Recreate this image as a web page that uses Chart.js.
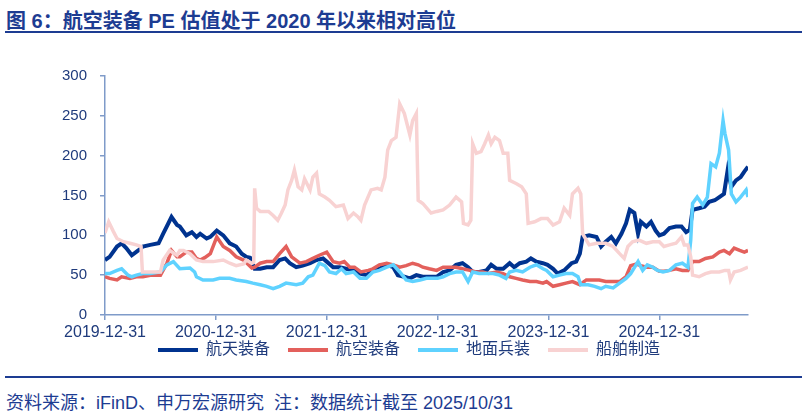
<!DOCTYPE html>
<html>
<head>
<meta charset="utf-8">
<script src="https://cdn.jsdelivr.net/npm/chart.js@4"></script>
<style>
  body { margin: 0; background: #fff; }
  #wrap { position: relative; width: 807px; height: 413px; overflow: hidden; }
  #title { position: absolute; left: 6px; top: 5px; font: bold 20px "Liberation Sans", "Noto Sans CJK SC", sans-serif; color: #1d3c92; white-space: nowrap; }
  .rule { position: absolute; left: 5px; width: 797px; height: 2px; background: #1d3c92; }
  #note { position: absolute; left: 6px; top: 388px; font: 18px "Liberation Sans", "Noto Sans CJK SC", sans-serif; color: #1d3c92; white-space: nowrap; }
  #box { position: absolute; left: 0; top: 0; width: 807px; height: 384px; }
</style>
</head>
<body>
<div id="wrap">
  <div id="title">图 6：航空装备 PE 估值处于 2020 年以来相对高位</div>
  <div class="rule" style="top:31px"></div>
  <div class="rule" style="top:376px"></div>
  <div id="note">资料来源：iFinD、申万宏源研究&nbsp; 注：数据统计截至 2025/10/31</div>
  <div id="box"><canvas id="peChart"></canvas></div>
</div>
<script>
// x = months since 2019-12-31, y = PE
const seriesNames = ['航天装备', '航空装备', '地面兵装', '船舶制造'];
const tickMonths = [0, 12, 24, 36, 48, 60];
const tickLabels = ['2019-12-31', '2020-12-31', '2021-12-31', '2022-12-31', '2023-12-31', '2024-12-31'];

const hangtian = [[0,69],[0.5,73],[1.3,86],[1.8,90],[2.3,84],[2.9,75],[3.6,81],[4.1,86],[4.9,88],[5.8,90],[6.3,102],[7.2,123],[7.8,113],[8.1,111],[8.8,100],[9.4,104],[9.9,98],[10.3,102],[11.0,96],[11.4,98],[12.1,106],[12.8,100],[13.5,90],[14.2,86],[14.8,77],[15.3,73],[15.7,72],[16.2,58],[16.8,58],[17.5,60],[18.2,60],[18.9,69],[19.5,71],[20.0,65],[20.7,60],[21.4,62],[22.2,65],[22.9,69],[23.6,71],[24.0,67],[24.7,60],[25.4,60],[26.1,58],[26.9,56],[27.6,52],[28.3,50],[29.0,56],[29.7,58],[30.5,63],[31.2,60],[31.7,50],[32.4,48],[33.0,46],[33.7,50],[34.4,48],[35.1,48],[35.9,48],[36.6,54],[37.3,56],[38.0,63],[38.7,65],[39.3,60],[39.8,54],[40.5,54],[41.3,56],[41.8,63],[42.4,58],[43.1,58],[43.8,65],[44.3,60],[44.9,65],[45.6,67],[46.1,71],[46.7,67],[47.4,65],[47.9,63],[48.5,58],[49.0,52],[49.7,56],[50.5,65],[51.0,67],[51.4,77],[51.7,98],[52.4,100],[53.2,98],[53.7,86],[54.2,92],[54.8,98],[55.3,90],[55.9,102],[56.4,115],[56.8,132],[57.3,128],[57.7,102],[58.0,117],[58.6,111],[59.1,117],[59.6,106],[60.0,100],[60.5,102],[61.1,109],[61.8,111],[62.4,111],[62.9,104],[63.3,107],[63.6,132],[64.3,134],[64.9,136],[65.4,142],[66.0,144],[66.5,148],[67.0,152],[67.4,182],[67.8,161],[68.3,169],[68.8,173],[69.2,180],[69.6,186]];

const hangkong = [[0,48],[0.5,46],[1.3,44],[1.8,48],[2.7,46],[3.4,48],[4.1,48],[4.9,50],[6.0,50],[6.7,65],[7.2,81],[7.8,73],[8.1,73],[8.8,79],[9.4,79],[9.9,71],[10.3,69],[10.8,72],[11.4,77],[12.1,98],[12.8,86],[13.5,81],[14.2,73],[15.0,69],[15.9,59],[16.2,60],[16.8,65],[17.5,67],[18.2,67],[18.9,77],[19.6,86],[20.2,73],[21.1,65],[21.8,67],[22.5,71],[23.2,75],[24.0,79],[24.7,67],[25.4,65],[25.9,67],[26.5,60],[27.0,60],[27.7,54],[28.5,56],[29.0,58],[29.7,63],[30.5,65],[31.2,63],[31.9,60],[32.6,62],[33.3,65],[33.9,63],[34.4,60],[35.1,58],[35.9,56],[36.6,60],[37.3,60],[38.0,60],[38.7,58],[39.5,56],[40.2,54],[40.9,54],[41.5,52],[42.4,54],[43.1,52],[43.8,48],[44.5,46],[45.2,44],[46.0,42],[46.7,42],[47.4,40],[47.8,42],[48.5,36],[49.2,38],[49.9,40],[50.6,42],[51.4,38],[52.1,44],[52.8,44],[53.5,44],[54.2,42],[55.0,42],[55.7,42],[56.4,48],[56.9,62],[57.5,64],[58.0,62],[58.6,60],[59.3,60],[60.0,55],[60.5,55],[61.1,56],[61.8,58],[62.5,56],[63.1,56],[63.6,67],[64.3,67],[65.0,71],[65.8,73],[66.5,79],[67.0,81],[67.6,77],[68.1,84],[68.7,81],[69.2,79],[69.6,81]];

const dimian = [[0,52],[0.5,52],[1.3,56],[1.8,58],[2.5,50],[2.9,48],[3.4,50],[4.1,52],[4.9,52],[6.0,54],[6.7,63],[7.4,67],[8.1,58],[9.2,59],[9.7,54],[9.9,48],[10.6,44],[11.7,44],[12.4,46],[13.5,46],[14.2,44],[15.3,42],[16.0,40],[16.8,38],[17.5,36],[18.2,33],[18.9,36],[19.6,40],[20.7,38],[21.4,40],[22.0,48],[22.5,50],[23.2,65],[23.8,62],[24.3,54],[25.0,52],[25.6,58],[26.1,52],[26.9,54],[27.6,46],[28.3,46],[29.0,54],[29.7,56],[30.5,60],[31.2,63],[31.9,54],[32.6,44],[33.3,42],[34.1,44],[34.8,46],[35.5,46],[36.0,46],[36.6,48],[37.3,52],[38.0,54],[38.7,54],[39.3,42],[39.8,54],[40.5,52],[41.3,52],[42.0,52],[42.7,50],[43.4,46],[43.8,54],[44.5,56],[45.2,54],[46.0,60],[46.7,63],[47.4,58],[47.8,56],[48.5,48],[49.2,50],[49.9,52],[50.6,52],[51.2,48],[51.5,38],[52.3,38],[53.0,36],[53.7,33],[54.2,36],[55.0,34],[55.7,40],[56.4,46],[56.9,52],[57.7,67],[58.2,56],[58.7,63],[59.3,60],[59.8,56],[60.4,54],[61.1,56],[61.8,63],[62.5,65],[63.1,60],[63.4,94],[63.6,140],[64.1,148],[64.7,138],[65.2,148],[65.6,190],[66.1,186],[66.5,203],[66.9,244],[67.1,228],[67.5,207],[67.8,152],[68.3,142],[68.8,148],[69.4,157],[69.6,148]];

const chuanbo = [[0,103],[0.4,117],[0.9,105],[1.3,96],[2.0,92],[2.7,90],[3.4,88],[3.9,86],[4.05,54],[4.9,54],[6.0,54],[6.3,69],[7.0,81],[7.8,75],[8.1,81],[8.5,81],[9.2,77],[9.9,69],[10.6,67],[11.7,67],[12.8,69],[13.5,65],[14.2,62],[15.0,64],[15.3,69],[15.9,65],[16.1,66],[16.2,159],[16.4,134],[16.8,130],[17.7,130],[18.2,125],[18.7,119],[19.1,128],[19.5,138],[19.8,157],[20.2,169],[20.5,182],[20.9,161],[21.3,157],[21.6,171],[22.2,157],[22.5,173],[22.9,178],[23.2,152],[23.8,148],[24.3,144],[25.0,136],[25.8,138],[26.3,121],[26.9,128],[27.4,123],[27.7,119],[28.1,138],[28.8,157],[29.5,159],[29.9,157],[30.3,173],[30.6,207],[31.0,219],[31.5,223],[31.9,265],[32.4,253],[33.0,226],[33.3,244],[33.7,253],[33.9,144],[34.4,140],[35.3,128],[35.9,130],[36.6,132],[37.3,138],[38.0,148],[38.6,142],[38.8,115],[39.3,113],[39.6,119],[39.8,215],[40.2,203],[40.7,205],[41.1,215],[41.5,226],[41.8,215],[42.2,223],[42.7,219],[43.1,203],[43.6,203],[43.8,169],[44.5,165],[45.1,161],[45.6,152],[45.8,115],[46.5,117],[47.2,121],[47.9,121],[48.5,113],[49.2,117],[49.7,134],[50.3,125],[50.6,152],[51.2,159],[51.5,152],[51.7,102],[52.4,88],[53.2,90],[54.2,90],[55.0,86],[55.7,77],[56.2,71],[56.6,86],[57.1,92],[57.8,94],[58.6,90],[59.3,92],[60.0,92],[60.5,86],[61.1,88],[61.8,90],[62.4,98],[62.7,88],[63.1,88],[63.4,73],[63.6,50],[64.3,48],[65.0,52],[65.6,54],[66.5,54],[67.1,56],[67.5,56],[67.7,44],[68.1,54],[68.8,56],[69.6,60]];

const colors = ['#00338f', '#e3605c', '#5fd2ff', '#f8d2d2'];
const widths = [4, 3.5, 3.5, 3.5];
const axisColor = '#7f9bc9';
const textColor = '#1f3b7c';
const fontFamily = '"Liberation Sans", "Noto Sans CJK SC", sans-serif';

const datasets = [hangtian, hangkong, dimian, chuanbo].map((d, i) => ({
    label: seriesNames[i],
    data: d,
    borderColor: colors[i],
    backgroundColor: colors[i],
    borderWidth: widths[i],
    pointRadius: 0,
    tension: 0,
    order: 4 - i   // later series drawn on top, like the original
}));

// nudge the legend up under the axis labels and a bit right, as in the original
const legendShift = {
    id: 'legendShift',
    afterLayout(chart) {
        const lg = chart.legend;
        lg.top -= 16; lg.bottom -= 16;
        lg.left += 35; lg.right += 35;
    }
};

new Chart(document.getElementById('peChart'), {
    type: 'line',
    data: { datasets },
    plugins: [legendShift],
    options: {
        responsive: true,
        maintainAspectRatio: false,
        animation: false,
        layout: { padding: { left: 0, right: 59, top: 76, bottom: 0 } },
        plugins: {
            tooltip: { enabled: false },
            legend: {
                position: 'bottom',
                labels: {
                    boxWidth: 40,
                    boxHeight: 4,
                    padding: 18,
                    color: textColor,
                    font: { family: fontFamily, size: 16 },
                    sort: (a, b) => a.datasetIndex - b.datasetIndex,
                    generateLabels: chart => Chart.defaults.plugins.legend.labels.generateLabels(chart)
                        .map(l => ({ ...l, lineWidth: 0, fillStyle: l.strokeStyle }))
                }
            }
        },
        scales: {
            x: {
                type: 'linear',
                min: 0,
                max: 69.6,
                afterBuildTicks: axis => { axis.ticks = tickMonths.map(v => ({ value: v })); },
                afterFit: axis => { axis.height = 25; },
                ticks: {
                    autoSkip: false,
                    maxRotation: 0,
                    padding: 3,
                    color: textColor,
                    font: { family: fontFamily, size: 16 },
                    callback: v => tickLabels[tickMonths.indexOf(v)]
                },
                grid: { drawOnChartArea: false, drawTicks: true, tickLength: 5, color: axisColor, lineWidth: 1.5 },
                border: { color: axisColor, width: 1.5 }
            },
            y: {
                min: 0,
                max: 300,
                afterFit: axis => { axis.width = 105; },
                ticks: {
                    stepSize: 50,
                    padding: 13,
                    color: textColor,
                    font: { family: fontFamily, size: 15 }
                },
                grid: { drawOnChartArea: false, drawTicks: true, tickLength: 5, color: axisColor, lineWidth: 1.5 },
                border: { color: axisColor, width: 1.5 }
            }
        }
    }
});
</script>
</body>
</html>
